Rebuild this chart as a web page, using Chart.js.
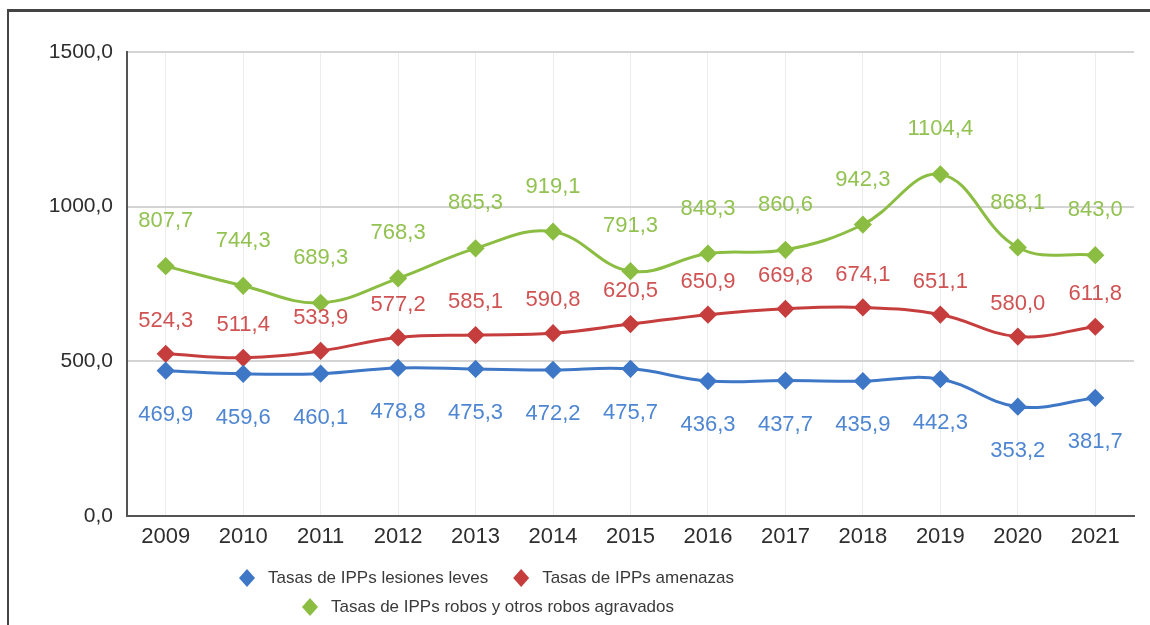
<!DOCTYPE html>
<html>
<head>
<meta charset="utf-8">
<script src="https://cdn.jsdelivr.net/npm/chart.js@4"></script>
<style>
    body { margin: 0; background: #fff; }
    #wrap { position: relative; width: 1150px; height: 625px; }
    #frame {
        position: absolute; left: 7px; top: 9px; right: 0; bottom: 0;
        border-top: 3px solid #444; border-left: 2px solid #444;
        pointer-events: none;
    }
</style>
</head>
<body>
<div id="wrap">
    <canvas id="ippChart"></canvas>
    <div id="frame"></div>
</div>
<script>
const years = ['2009', '2010', '2011', '2012', '2013', '2014', '2015', '2016', '2017', '2018', '2019', '2020', '2021'];
const lesiones = [469.9, 459.6, 460.1, 478.8, 475.3, 472.2, 475.7, 436.3, 437.7, 435.9, 442.3, 353.2, 381.7];
const amenazas = [524.3, 511.4, 533.9, 577.2, 585.1, 590.8, 620.5, 650.9, 669.8, 674.1, 651.1, 580.0, 611.8];
const robos = [807.7, 744.3, 689.3, 768.3, 865.3, 919.1, 791.3, 848.3, 860.6, 942.3, 1104.4, 868.1, 843.0];
const yTicks = [0, 500, 1000, 1500];

const FONT = '"Liberation Sans", Arial, sans-serif';

function fmt(v) {
    return v.toFixed(1).replace('.', ',');
}

// value labels above / below each point
const valueLabels = {
    id: 'valueLabels',
    afterDatasetsDraw(chart) {
        const ctx = chart.ctx;
        ctx.save();
        ctx.font = '22px ' + FONT;
        ctx.textAlign = 'center';
        ctx.textBaseline = 'middle';
        chart.data.datasets.forEach((ds, i) => {
            const meta = chart.getDatasetMeta(i);
            ctx.fillStyle = ds.labelColor;
            meta.data.forEach((pt, j) => {
                ctx.fillText(fmt(ds.data[j]), pt.x, pt.y + ds.labelOffset);
            });
        });
        ctx.restore();
    }
};

// legend in two rows, diamonds like the markers
const diamondLegend = {
    id: 'diamondLegend',
    afterDraw(chart) {
        const ctx = chart.ctx;
        const rows = [
            { y: 578, x: 239, items: [0, 1] },
            { y: 607, x: 302, items: [2] }
        ];
        ctx.save();
        ctx.font = '17px ' + FONT;
        ctx.textBaseline = 'middle';
        ctx.textAlign = 'left';
        rows.forEach(row => {
            let x = row.x;
            row.items.forEach(i => {
                const ds = chart.data.datasets[i];
                ctx.fillStyle = ds.borderColor;
                ctx.beginPath();
                ctx.moveTo(x + 8, row.y - 9);
                ctx.lineTo(x + 16, row.y);
                ctx.lineTo(x + 8, row.y + 9);
                ctx.lineTo(x, row.y);
                ctx.closePath();
                ctx.fill();
                ctx.fillStyle = '#3a3a3a';
                ctx.fillText(ds.label, x + 29, row.y);
                x += 29 + ctx.measureText(ds.label).width + 25;
            });
        });
        ctx.restore();
    }
};

function series(label, data, color, labelColor, labelOffset) {
    return {
        label: label,
        data: data,
        borderColor: color,
        backgroundColor: color,
        labelColor: labelColor,
        labelOffset: labelOffset,
        borderWidth: 3,
        tension: 0.4,
        pointStyle: 'rectRot',
        pointRadius: 7,
        pointHoverRadius: 7,
        fill: false
    };
}

new Chart(document.getElementById('ippChart'), {
    type: 'line',
    data: {
        labels: years,
        datasets: [
            series('Tasas de IPPs lesiones leves', lesiones, '#3f77c7', '#4f86d2', 44),
            series('Tasas de IPPs amenazas', amenazas, '#c63d3d', '#d05353', -33),
            series('Tasas de IPPs robos y otros robos agravados', robos, '#8bbd42', '#92c251', -45)
        ]
    },
    options: {
        responsive: true,
        maintainAspectRatio: false,
        animation: false,
        layout: { padding: { left: 0, right: 16, top: 52, bottom: 0 } },
        plugins: {
            legend: { display: false },
            tooltip: { enabled: false }
        },
        scales: {
            x: {
                offset: true,
                afterFit(s) { s.height = 109; },
                grid: { color: '#ececec', lineWidth: 1, drawTicks: false, offset: false },
                border: { color: '#555', width: 2 },
                ticks: { color: '#2e2e2e', padding: 8, font: { family: FONT, size: 22 } }
            },
            y: {
                min: 0,
                max: 1500,
                afterFit(s) { s.width = 127; },
                afterBuildTicks(s) { s.ticks = yTicks.map(v => ({ value: v })); },
                grid: { color: '#d4d4d4', lineWidth: 2, drawTicks: false },
                border: { color: '#555', width: 2 },
                ticks: {
                    color: '#2e2e2e',
                    padding: 14,
                    font: { family: FONT, size: 21 },
                    callback: v => fmt(v)
                }
            }
        }
    },
    plugins: [valueLabels, diamondLegend]
});
</script>
</body>
</html>
